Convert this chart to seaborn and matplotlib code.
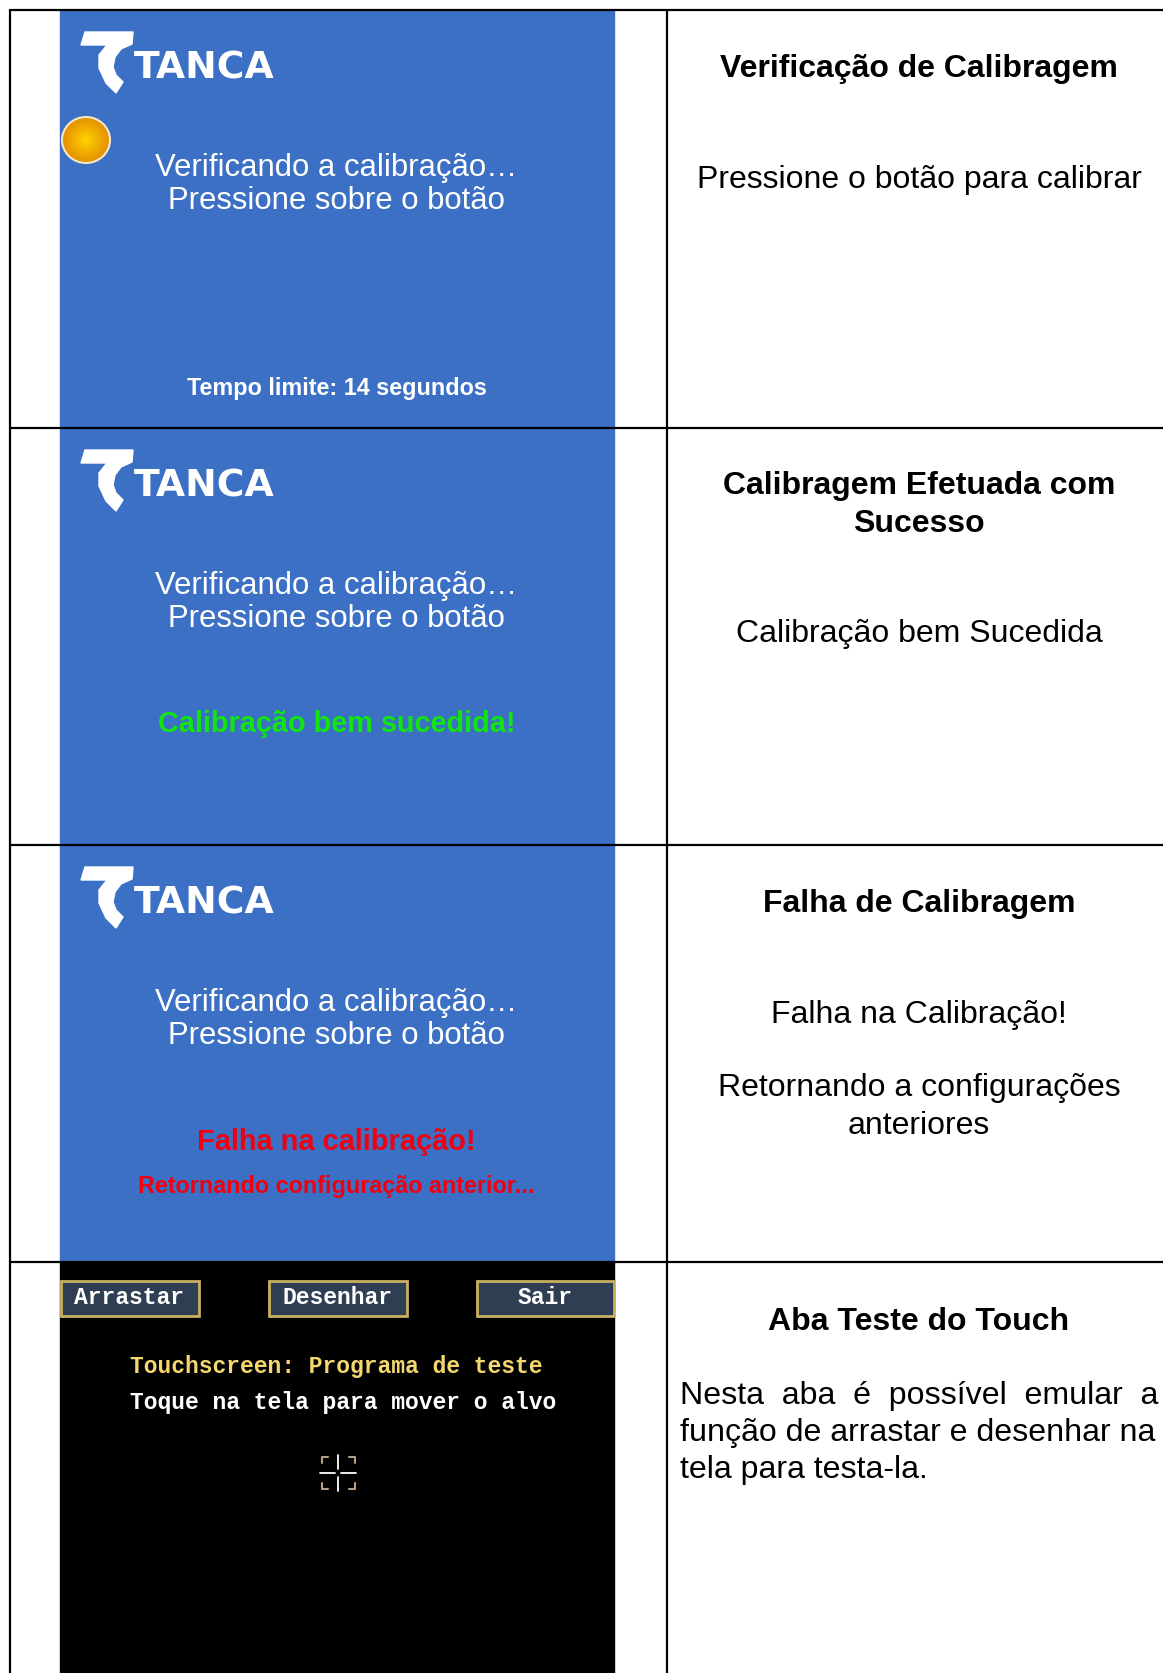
import matplotlib
matplotlib.use("Agg")
import seaborn as sns
import matplotlib.pyplot as plt
from matplotlib.patches import Ellipse, Polygon, Rectangle

sns.set_theme(style="white")
plt.rcParams["font.family"] = ["Liberation Sans", "DejaVu Sans"]

W, H = 1163, 1673
BLUE = "#3b70c4"

# table text, one list per column
row_titles = ["Verificação de Calibragem", "Calibragem Efetuada com\nSucesso", "Falha de Calibragem", "Aba Teste do Touch"]
row_title_y = [69, 505, 904, 1322]
row_notes = ["Pressione o botão para calibrar", "Calibração bem Sucedida", "Falha na Calibração!"]
row_note_y = [180, 634, 1015]
row_tops = [10, 428, 845, 1262]
screen_lines = ["Verificando a calibração…", "Pressione sobre o botão"]
buttons = ["Arrastar", "Desenhar", "Sair"]
button_left = [61, 269, 477]
button_width = [138, 138, 137]
logo_x = [85, 133, 132, 121, 115, 113, 116, 123, 116, 106, 99, 99, 107, 81]
logo_y = [32, 32, 44, 49, 57, 67, 75, 82, 93, 83, 68, 55, 45, 45]
glow_sizes = [49, 42, 36, 30, 24, 18, 12, 6]
glow_colors = ["#e39400", "#e89b00", "#eca300", "#f0ab00", "#f4b400", "#f8bd00", "#fbc600", "#fdd000"]


def rule(ax, xs, ys, color="black", lw=1.6, z=5):
    sns.lineplot(x=xs, y=ys, color=color, lw=lw, ax=ax, zorder=z, estimator=None, sort=False, legend=False)


fig, ax = plt.subplots(figsize=(W / 100, H / 100), dpi=100)
fig.subplots_adjust(left=0, right=1, top=1, bottom=0)
ax.axis("off")

# blue screens and the black one
for top in row_tops[:3]:
    off = top - row_tops[0]
    ax.add_patch(Rectangle((60, top), 554, 418, color=BLUE, zorder=1))
    ax.add_patch(Polygon([(x, y + off) for x, y in zip(logo_x, logo_y)], color="white", zorder=2))
    ax.text(204, 68 + off, "TANCA", color="white", family="DejaVu Sans", fontsize=27.2, fontweight="bold", ha="center", va="center", zorder=2)
    ax.text(336, 168 + off, screen_lines[0], color="white", fontsize=22.4, ha="center", va="center", zorder=2)
    ax.text(336, 201 + off, screen_lines[1], color="white", fontsize=22.4, ha="center", va="center", zorder=2)
ax.add_patch(Rectangle((60, row_tops[3]), 554, H - row_tops[3], color="black", zorder=1))

ax.text(337, 388, "Tempo limite: 14 segundos", color="white", fontsize=16.8, fontweight="bold", ha="center", va="center", zorder=2)
ax.text(337, 724, "Calibração bem sucedida!", color="#11e411", fontsize=20.8, fontweight="bold", ha="center", va="center", zorder=2)
ax.text(336, 1142, "Falha na calibração!", color="#f00010", fontsize=20.9, fontweight="bold", ha="center", va="center", zorder=2)
ax.text(336, 1186, "Retornando configuração anterior...", color="#f00010", fontsize=16.8, fontweight="bold", ha="center", va="center", zorder=2)

# orange calibration button, drawn as shrinking rings
ax.add_patch(Ellipse((86, 140), 48, 46, facecolor=glow_colors[0], edgecolor="#f3e6c8", lw=1.5, zorder=3))
for s, c in zip(glow_sizes[1:], glow_colors[1:]):
    ax.add_patch(Ellipse((86, 140), s, s * 0.96, color=c, lw=0, zorder=3))

# touch test screen
for name, left, width in zip(buttons, button_left, button_width):
    ax.add_patch(Rectangle((left, 1281), width, 35, facecolor="#2f3e52", edgecolor="#c8b060", lw=2, zorder=2))
    ax.text(left + 68, 1298, name, color="white", family="Liberation Mono", fontsize=16.6, fontweight="bold", ha="center", va="center", zorder=3)
ax.text(130, 1366, "Touchscreen: Programa de teste", color="#f5d76e", family="Liberation Mono", fontsize=16.6, fontweight="bold", ha="left", va="center", zorder=2)
ax.text(130, 1402, "Toque na tela para mover o alvo", color="white", family="Liberation Mono", fontsize=16.6, fontweight="bold", ha="left", va="center", zorder=2)

# crosshair
rule(ax, [338, 338], [1455, 1469], "white", 1.3, 2)
rule(ax, [338, 338], [1477, 1491], "white", 1.3, 2)
rule(ax, [320, 335], [1473, 1473], "white", 1.3, 2)
rule(ax, [341, 356], [1473, 1473], "white", 1.3, 2)
for xs, ys in [([322, 322, 328], [1463, 1457, 1457]), ([349, 355, 355], [1457, 1457, 1463]),
               ([322, 322, 328], [1483, 1489, 1489]), ([349, 355, 355], [1489, 1489, 1483])]:
    rule(ax, xs, ys, "#b89c84", 1.5, 2)

# right column text
for title, y in zip(row_titles, row_title_y):
    ax.text(919, y, title, color="black", fontsize=23, fontweight="bold", ha="center", va="center", linespacing=1.31)
for note, y in zip(row_notes, row_note_y):
    ax.text(919, y, note, color="black", fontsize=23, ha="center", va="center")
ax.text(919, 1107, "Retornando a configurações\nanteriores", color="black", fontsize=23, ha="center", va="center", linespacing=1.31)
ax.text(680, 1433, "Nesta  aba  é  possível  emular  a\nfunção de arrastar e desenhar na\ntela para testa-la.", color="black", fontsize=23.15, ha="left", va="center", linespacing=1.29)

# table rules
for y in row_tops:
    rule(ax, [10, W], [y, y])
rule(ax, [10, 10], [10, H])
rule(ax, [667, 667], [10, H])

ax.set_xlim(0, W)
ax.set_ylim(H, 0)
fig.savefig("out.png", dpi=100, facecolor="white")
